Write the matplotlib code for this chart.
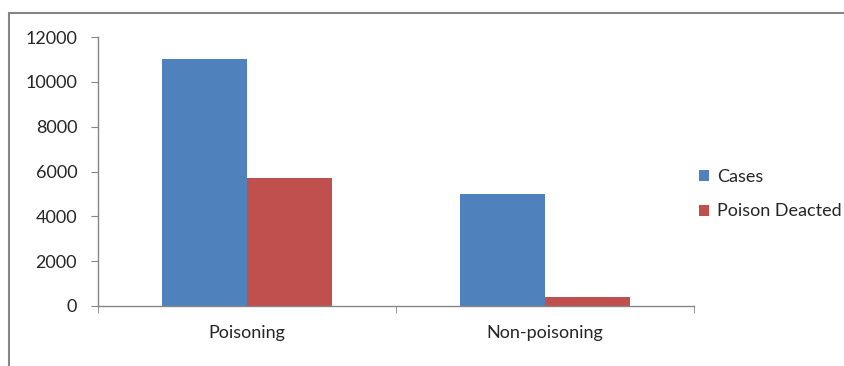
import numpy as np
import matplotlib.pyplot as plt
from matplotlib.patches import Rectangle

categories = ["Poisoning", "Non-poisoning"]
cases = [11000, 5000]
poison_deacted = [5700, 380]
yticks = [0, 2000, 4000, 6000, 8000, 10000, 12000]

plt.rcParams["font.family"] = ["Lato", "DejaVu Sans"]

fig = plt.figure(figsize=(8.45, 3.66), dpi=100)
ax = fig.add_axes([98 / 845, 1 - 306 / 366, (694 - 98) / 845, (306 - 37) / 366])

# outer chart border (top and left visible, rest cropped)
fig.patches.append(Rectangle((9 / 845, -0.1), 1.2, 1 - 13 / 366 + 0.1,
                             transform=fig.transFigure, fill=False,
                             edgecolor="#868686", linewidth=1.5))

x = np.arange(len(categories))
w = 0.285
ax.bar(x - w / 2, cases, w, color="#4f81bd", label="Cases")
ax.bar(x + w / 2, poison_deacted, w, color="#c0504d", label="Poison Deacted")

ax.set_xlim(-0.5, 1.5)
ax.set_ylim(0, 12000)
ax.set_yticks(yticks)
ax.set_xticks(x)
ax.set_xticklabels(categories)
ax.set_xticks([-0.5, 0.5, 1.5], minor=True)

for s in ["top", "right"]:
    ax.spines[s].set_visible(False)
for s in ["left", "bottom"]:
    ax.spines[s].set_color("#868686")
    ax.spines[s].set_linewidth(1.0)

ax.tick_params(axis="y", length=5, color="#868686", labelsize=13, labelcolor="#262626", pad=10)
ax.tick_params(axis="x", which="major", length=0, labelsize=13, labelcolor="#262626", pad=14)
ax.tick_params(axis="x", which="minor", length=5, color="#868686")

ax.legend(loc="center left", bbox_to_anchor=(699 / 845, 1 - 194 / 366),
          bbox_transform=fig.transFigure, frameon=False, borderpad=0, borderaxespad=0,
          fontsize=13, handlelength=0.55, handleheight=0.55, handletextpad=0.45,
          labelspacing=1.05, labelcolor="#262626")

fig.savefig("out.png", dpi=100)
